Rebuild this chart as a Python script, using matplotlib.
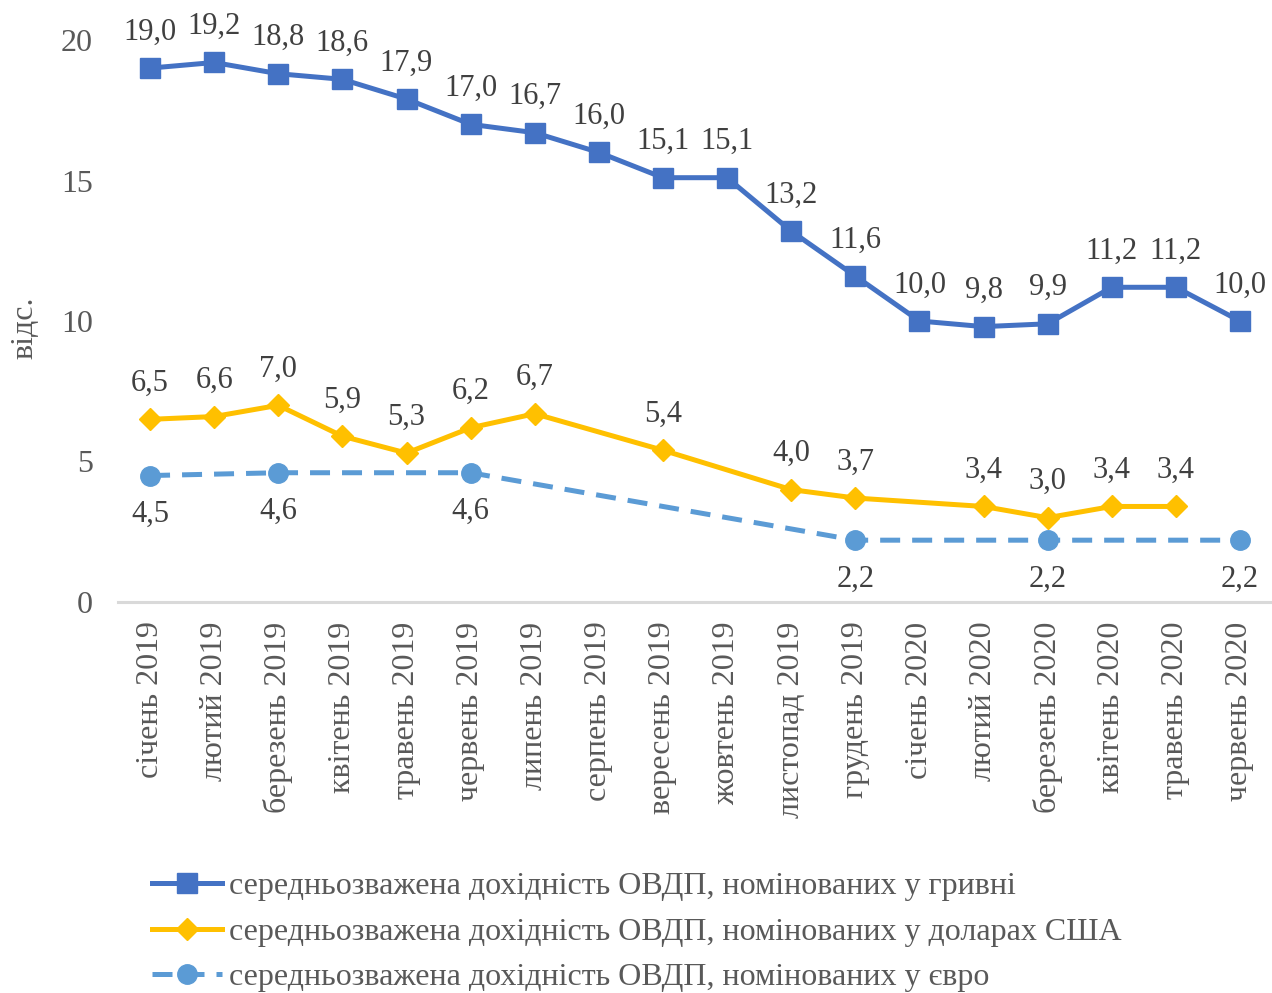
import numpy as np
import matplotlib
matplotlib.use("Agg")
import matplotlib.pyplot as plt

plt.rcParams["font.family"] = ["Liberation Serif", "DejaVu Serif"]

months = ["січень 2019", "лютий 2019", "березень 2019", "квітень 2019",
          "травень 2019", "червень 2019", "липень 2019", "серпень 2019",
          "вересень 2019", "жовтень 2019", "листопад 2019", "грудень 2019",
          "січень 2020", "лютий 2020", "березень 2020", "квітень 2020",
          "травень 2020", "червень 2020"]

uah = [19.0, 19.2, 18.8, 18.6, 17.9, 17.0, 16.7, 16.0, 15.1, 15.1,
       13.2, 11.6, 10.0, 9.8, 9.9, 11.2, 11.2, 10.0]
usd = [6.5, 6.6, 7.0, 5.9, 5.3, 6.2, 6.7, None, 5.4, None,
       4.0, 3.7, None, 3.4, 3.0, 3.4, 3.4, None]
eur = [4.5, None, 4.6, None, None, 4.6, None, None, None, None,
       None, 2.2, None, None, 2.2, None, None, 2.2]

labels = ["середньозважена дохідність ОВДП, номінованих у гривні",
          "середньозважена дохідність ОВДП, номінованих у доларах США",
          "середньозважена дохідність ОВДП, номінованих у євро"]

TEXT = "#404040"
TICK = "#595959"


def points(vals):
    # drop the gaps so the line is drawn straight across them
    x = [i for i, v in enumerate(vals) if v is not None]
    y = [v for v in vals if v is not None]
    return np.array(x), np.array(y)


def add_labels(ax, x, y, dy):
    for xi, yi in zip(x, y):
        ax.annotate(f"{yi:.1f}".replace(".", ","), (xi, yi), xytext=(0, dy),
                    textcoords="offset points", ha="center", va="center",
                    fontsize=22, color=TEXT)


fig = plt.figure(figsize=(12.72, 9.93), dpi=100)
ax = fig.add_axes([118 / 1272, 1 - 602 / 993, (1272 - 118) / 1272, (602 - 40) / 993])

x, y = points(uah)
ax.plot(x, y, color="#4472C4", lw=3.6, marker="s", ms=14, label=labels[0], zorder=3)
add_labels(ax, x, y, 26)

x, y = points(usd)
ax.plot(x, y, color="#FFC000", lw=3.6, marker="D", ms=11, label=labels[1], zorder=3)
add_labels(ax, x, y, 26)

x, y = points(eur)
ax.plot(x, y, color="#5B9BD5", lw=3.6, ls=(0, (4, 2.4)), marker="o", ms=14,
        label=labels[2], zorder=3)
add_labels(ax, x, y, -28)

ax.set_xlim(-0.5, len(months) - 0.5)
ax.set_ylim(0, 20)
ax.set_yticks([0, 5, 10, 15, 20])
ax.set_xticks(range(len(months)))
ax.set_xticklabels(months, rotation=90)
ax.tick_params(axis="both", length=0, labelsize=23, labelcolor=TICK)
ax.tick_params(axis="y", pad=18)
ax.tick_params(axis="x", pad=14)

for side in ["left", "right", "top"]:
    ax.spines[side].set_visible(False)
ax.spines["bottom"].set_color("#D9D9D9")
ax.spines["bottom"].set_linewidth(2.2)

fig.text(25 / 1272, 1 - 328 / 993, "відс.", rotation=90, ha="center", va="center",
         fontsize=23, color=TICK)

fig.legend(loc="center left", bbox_to_anchor=(152 / 1272, 1 - 932 / 993),
           frameon=False, fontsize=23, labelcolor=TICK, borderpad=0,
           borderaxespad=0, handlelength=2.2, handletextpad=0.2,
           labelspacing=0.5)

fig.savefig("out.png", dpi=100)
